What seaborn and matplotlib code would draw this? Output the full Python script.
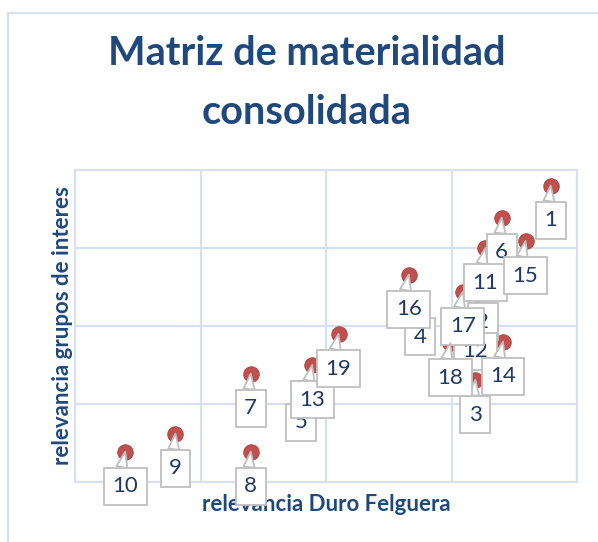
import pandas as pd
import seaborn as sns
import matplotlib.pyplot as plt
from matplotlib.patches import Rectangle

# asunto, relevancia Duro Felguera (x), relevancia grupos de interes (y)
labels = [str(i) for i in range(1, 20)]
rel_duro = [4.79, 4.25, 4.19, 3.75, 2.80, 4.40, 2.40, 2.40, 1.80, 1.40,
            4.27, 4.19, 2.89, 4.41, 4.59, 3.66, 4.09, 3.99, 3.10]
rel_grupos = [4.80, 3.50, 2.31, 3.31, 2.21, 4.39, 2.39, 1.39, 1.62, 1.39,
              4.00, 3.12, 2.50, 2.80, 4.09, 3.66, 3.44, 2.78, 2.90]

df = pd.DataFrame({'asunto': labels, 'x': rel_duro, 'y': rel_grupos})

navy = '#1F497D'
grid_col = '#D5E0F0'

sns.set_style('white')
plt.rcParams['font.family'] = ['Lato', 'DejaVu Sans']

fig = plt.figure(figsize=(5.98, 5.42), dpi=100)
ax = fig.add_axes([75 / 598, 60 / 542, 502 / 598, 312 / 542])

sns.scatterplot(data=df, x='x', y='y', ax=ax, s=125, color='#C0504D',
                edgecolor='#A8403D', linewidth=0.6, zorder=2, legend=False)

# callouts, in order so later ones sit on top
for i, row in df.iterrows():
    ax.annotate(row['asunto'], xy=(row['x'], row['y']), xytext=(0, -25),
                textcoords='offset points', ha='center', va='center',
                fontsize=16, color='#1F3864', zorder=3 + i,
                bbox=dict(boxstyle='square,pad=0.38', fc='white',
                          ec='#BFBFBF', lw=1.3),
                arrowprops=dict(arrowstyle='wedge,tail_width=0.5',
                                fc='white', ec='#BFBFBF', lw=1.3,
                                relpos=(0.3, 1.0), shrinkA=0, shrinkB=0))

ax.set_xlim(1, 5)
ax.set_ylim(1, 5)
ax.set_xticks([1, 2, 3, 4, 5])
ax.set_yticks([1, 2, 3, 4, 5])
ax.set_xticklabels([])
ax.set_yticklabels([])
ax.tick_params(length=0)
ax.grid(True, color=grid_col, lw=1.5)
for sp in ax.spines.values():
    sp.set_color(grid_col)
    sp.set_linewidth(1.5)

ax.set_xlabel('relevancia Duro Felguera', fontsize=16, fontweight='bold',
              color=navy, labelpad=5)
ax.set_ylabel('relevancia grupos de interes', fontsize=16, fontweight='bold',
              color=navy, labelpad=-2)

fig.suptitle('Matriz de materialidad\nconsolidada', x=0.513, y=0.8465,
             fontsize=28.5, fontweight='bold', color=navy, linespacing=1.72,
             va='center')

# chart area border
fig.add_artist(Rectangle((8 / 598, -0.1), 2, 1.1 - 13 / 542,
                         transform=fig.transFigure, fill=False,
                         ec=grid_col, lw=1.5))

plt.savefig('out.png', dpi=100)
